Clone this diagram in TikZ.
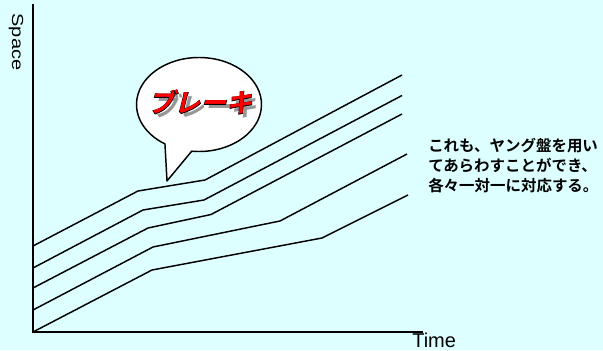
\documentclass[tikz,border=0pt]{standalone}
\usepackage{fontspec}
\setmainfont{Liberation Sans}
\newfontfamily\jpb{Noto Sans CJK JP Bold}
\newfontfamily\jpbs[FakeSlant=0.25]{Noto Sans CJK JP Bold}
\newfontfamily\jpbso[FakeSlant=0.25,FakeBold=3.5]{Noto Sans CJK JP Bold}
\definecolor{bgcyan}{RGB}{221,255,255}
\definecolor{shadowgray}{RGB}{150,150,150}
\tikzset{
  axisline/.style={line width=1.3pt, line cap=rect},
  pathline/.style={line width=1.1pt, line join=round},
  bubble/.style={line width=1.1pt, fill=white, line join=round},
  brktext/.style={font=\jpbs\fontsize{19.5}{21}\selectfont, inner sep=0pt},
  brkoutline/.style={font=\jpbso\fontsize{19.5}{21}\selectfont, inner sep=0pt},
  jptext/.style={font=\jpb\fontsize{11.6}{15}\selectfont, inner sep=0pt, anchor=base west},
  labeltext/.style={font=\fontsize{15}{17}\selectfont, inner sep=0pt}
}
\begin{document}
\begin{tikzpicture}[x=0.75pt, y=-0.75pt]
\fill[bgcyan] (0,0) rectangle (603,350);
\useasboundingbox (0,0) rectangle (603,350);
% axes
\coordinate (ytop) at (33,5);
\coordinate (orig) at (33,332);
\coordinate (xend) at (422,332);
\draw[axisline] (ytop) -- (orig) -- (xend);
% world lines
\draw[pathline] (orig) -- (152,270) -- (322,238) -- (408,195);
\draw[pathline] (33,310) -- (153,247) -- (280,221) -- (407,154);
\draw[pathline] (33,288) -- (148,228) -- (211,214.5) -- (402,114);
\draw[pathline] (33,268) -- (143,210) -- (204,200) -- (402,95.5);
\draw[pathline] (33,246) -- (138,191) -- (205,180) -- (402,75);
% speech bubble
\coordinate (bc) at (199,104.5);
\coordinate (tip) at (167,181);
\draw[bubble] ([shift={(96.7:62.5 and 47)}]bc)
  arc[start angle=96.7, end angle=-237, x radius=62.5, y radius=47]
  -- (tip) -- cycle;
\coordinate (bt) at (200,102);
\node[brktext, text=shadowgray] (brkshadow) at ([shift={(4.5,4.5)}]bt) {ブレーキ};
\node[brkoutline, text=black] (brkline) at (bt) {ブレーキ};
\node[brktext, text=red] (brk) at (bt) {ブレーキ};
% labels
\node[labeltext, rotate=-90] (space) at (16,42) {\scalebox{1}[0.8]{Space}};
\node[labeltext, anchor=base west] (time) at (412,347) {Time};
\node[jptext] (j1) at (428,151) {これも、ヤング盤を用い};
\node[jptext] (j2) at (428,171) {てあらわすことができ、};
\node[jptext] (j3) at (428,191) {各々一対一に対応する。};
\end{tikzpicture}
\end{document}
